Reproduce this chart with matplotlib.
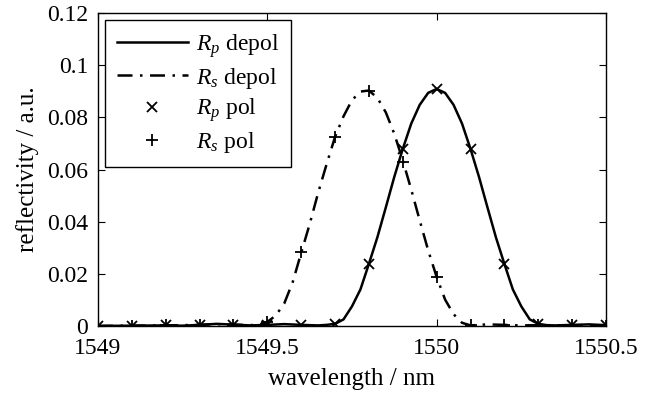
import matplotlib
matplotlib.use("Agg")
import matplotlib.pyplot as plt

plt.rcParams['font.family'] = ['Liberation Serif', 'DejaVu Serif']
plt.rcParams['mathtext.fontset'] = 'custom'
plt.rcParams['mathtext.rm'] = 'Liberation Serif'
plt.rcParams['mathtext.it'] = 'Liberation Serif:italic'

# depolarised spectra (dense samples)
wl_p = [1549.0, 1549.1, 1549.2, 1549.25, 1549.3, 1549.35, 1549.4, 1549.45, 1549.5,
        1549.55, 1549.6, 1549.625, 1549.65, 1549.675, 1549.7, 1549.725, 1549.75,
        1549.775, 1549.8, 1549.825, 1549.85, 1549.875, 1549.9, 1549.925, 1549.95,
        1549.975, 1550.0, 1550.025, 1550.05, 1550.075, 1550.1, 1550.125, 1550.15,
        1550.175, 1550.2, 1550.225, 1550.25, 1550.275, 1550.3, 1550.325, 1550.35,
        1550.4, 1550.45, 1550.5]
rp_depol = [0.0, 0.0001, 0.0002, 0.0001, 0.0004, 0.0008, 0.0005, 0.0002, 0.0004,
            0.0007, 0.0004, 0.0003, 0.0002, 0.0004, 0.0008, 0.0025, 0.0075,
            0.0140, 0.0238, 0.0340, 0.0455, 0.0572, 0.0679, 0.0776, 0.0848,
            0.0894, 0.0909, 0.0894, 0.0848, 0.0776, 0.0679, 0.0572, 0.0455,
            0.0340, 0.0238, 0.0140, 0.0075, 0.0025, 0.0008, 0.0003, 0.0002,
            0.0004, 0.0006, 0.0003]

wl_s = [1549.0, 1549.1, 1549.2, 1549.3, 1549.35, 1549.4, 1549.45, 1549.475, 1549.5,
        1549.525, 1549.55, 1549.575, 1549.6, 1549.625, 1549.65, 1549.675, 1549.7,
        1549.725, 1549.75, 1549.775, 1549.8, 1549.825, 1549.85, 1549.875, 1549.9,
        1549.925, 1549.95, 1549.975, 1550.0, 1550.025, 1550.05, 1550.075, 1550.1,
        1550.15, 1550.2, 1550.25, 1550.3, 1550.4, 1550.5]
rs_depol = [0.0, 0.0001, 0.0002, 0.0004, 0.0007, 0.0005, 0.0003, 0.0005, 0.0015,
            0.0040, 0.0086, 0.0168, 0.0280, 0.0390, 0.0510, 0.0620, 0.0725,
            0.0804, 0.0866, 0.0899, 0.0903, 0.0875, 0.0819, 0.0737, 0.0635,
            0.0523, 0.0405, 0.0290, 0.0188, 0.0101, 0.0045, 0.0012, 0.0002,
            0.0006, 0.0004, 0.0002, 0.0003, 0.0002, 0.0001]

# polarised measurements
wl_pol = [1549.0, 1549.1, 1549.2, 1549.3, 1549.4, 1549.5, 1549.6, 1549.7,
          1549.8, 1549.9, 1550.0, 1550.1, 1550.2, 1550.3, 1550.4, 1550.5]
rp_pol = [0.0, 0.0001, 0.0002, 0.0004, 0.0003, 0.0004, 0.0003, 0.0006,
          0.0238, 0.0679, 0.0909, 0.0679, 0.0238, 0.0008, 0.0003, 0.0003]
rs_pol = [0.0, 0.0001, 0.0002, 0.0004, 0.0003, 0.0015, 0.0284, 0.0725,
          0.0900, 0.0630, 0.0188, 0.0002, 0.0004, 0.0003, 0.0002, 0.0001]

xticks = [1549, 1549.5, 1550, 1550.5]
xlabels = ['1549', '1549.5', '1550', '1550.5']
yticks = [0, 0.02, 0.04, 0.06, 0.08, 0.1, 0.12]
ylabels = ['0', '0.02', '0.04', '0.06', '0.08', '0.1', '0.12']

fig = plt.figure(figsize=(6.53, 3.97), dpi=100)
ax = fig.add_axes([0.150, 0.179, 0.778, 0.788])

ax.plot(wl_p, rp_depol, color='black', lw=1.8, label='$R_p$ depol')
ax.plot(wl_s, rs_depol, color='black', lw=1.8, linestyle=(0, (6, 3, 1, 3)),
        label='$R_s$ depol')
ax.plot(wl_pol, rp_pol, linestyle='none', marker='x', color='black', ms=7,
        mew=1.3, label='$R_p$ pol')
ax.plot(wl_pol, rs_pol, linestyle='none', marker='+', color='black', ms=9,
        mew=1.3, label='$R_s$ pol')

ax.set_xlim(1549, 1550.5)
ax.set_ylim(0, 0.12)
ax.set_xticks(xticks)
ax.set_xticklabels(xlabels)
ax.set_yticks(yticks)
ax.set_yticklabels(ylabels)
ax.tick_params(direction='in', top=True, right=True, length=5, width=0.8,
               labelsize=17)
ax.tick_params(axis='x', pad=9)
ax.tick_params(axis='y', pad=7)
for s in ax.spines.values():
    s.set_linewidth(1.0)

ax.set_xlabel('wavelength / nm', fontsize=18, labelpad=6)
ax.set_ylabel('reflectivity / a.u.', fontsize=18, labelpad=6)

leg = ax.legend(loc='upper left', fontsize=17, frameon=True, fancybox=False,
                edgecolor='black', framealpha=1, handlelength=3.0,
                borderaxespad=0.3, labelspacing=0.25, handletextpad=0.35,
                borderpad=0.5)
leg.get_frame().set_linewidth(1.0)

fig.savefig('out.png', dpi=100)
